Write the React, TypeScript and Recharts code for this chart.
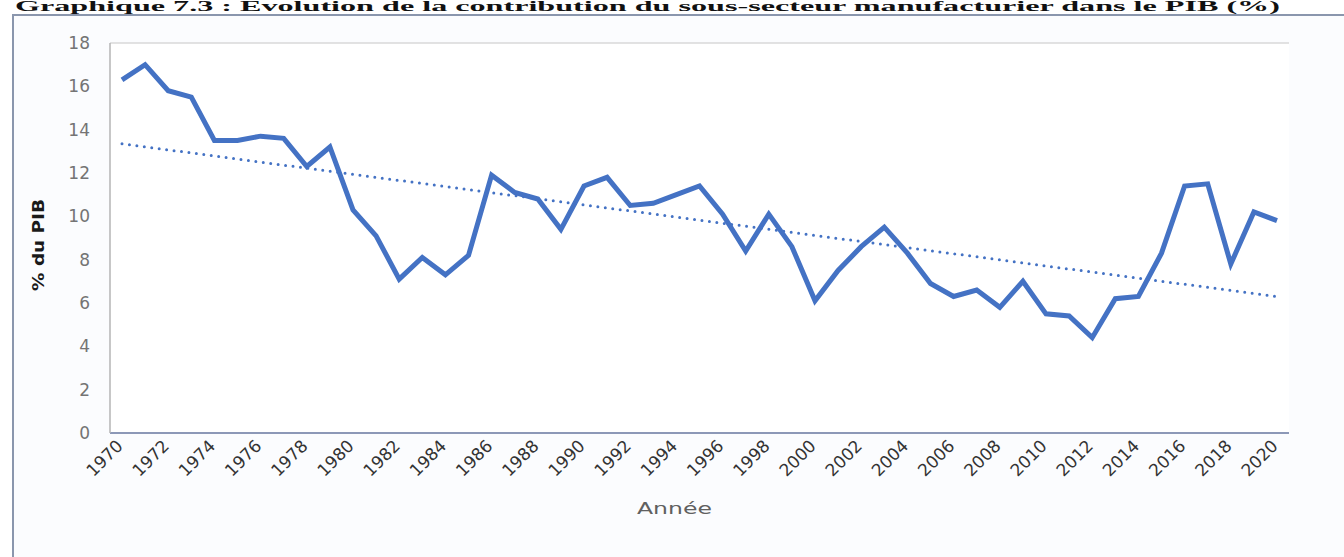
import { LineChart, Line, XAxis, YAxis, CartesianGrid, ReferenceLine } from 'recharts';

const years = [
    '1970', '1971', '1972', '1973', '1974', '1975', '1976', '1977', '1978', '1979',
    '1980', '1981', '1982', '1983', '1984', '1985', '1986', '1987', '1988', '1989',
    '1990', '1991', '1992', '1993', '1994', '1995', '1996', '1997', '1998', '1999',
    '2000', '2001', '2002', '2003', '2004', '2005', '2006', '2007', '2008', '2009',
    '2010', '2011', '2012', '2013', '2014', '2015', '2016', '2017', '2018', '2019',
    '2020',
];

// part du sous-secteur manufacturier (% du PIB)
const manufShare = [
    16.3, 17.0, 15.8, 15.5, 13.5, 13.5, 13.7, 13.6, 12.3, 13.2,
    10.3, 9.1, 7.1, 8.1, 7.3, 8.2, 11.9, 11.1, 10.8, 9.4,
    11.4, 11.8, 10.5, 10.6, 11.0, 11.4, 10.1, 8.4, 10.1, 8.6,
    6.1, 7.5, 8.6, 9.5, 8.3, 6.9, 6.3, 6.6, 5.8, 7.0,
    5.5, 5.4, 4.4, 6.2, 6.3, 8.3, 11.4, 11.5, 7.8, 10.2,
    9.8,
];

// tendance linéaire (extrémités)
const trendEnds = [
    { year: '1970', value: 13.35 },
    { year: '2020', value: 6.3 },
];

const yTicks = [0, 2, 4, 6, 8, 10, 12, 14, 16, 18];

const data = years.map((year, i) => ({ year, value: manufShare[i] }));

const BLUE = '#4472C4';
const FONT = '"DejaVu Sans", "Liberation Sans", sans-serif';

const XTick = (props: any) => {
    const { x, y, payload } = props;
    const tx = x + 2;
    const ty = y + 6;
    return (
        <text
            x={tx}
            y={ty}
            transform={`rotate(-45 ${tx} ${ty})`}
            textAnchor="end"
            fontSize={17}
            fontFamily={FONT}
            fill="#333"
        >
            {payload.value}
        </text>
    );
};

const YTick = (props: any) => {
    const { x, y, payload } = props;
    return (
        <text x={x - 12} y={y + 6} textAnchor="end" fontSize={17} fontFamily={FONT} fill="#747474">
            {payload.value}
        </text>
    );
};

export default function App() {
    return (
        <div style={{ position: 'absolute', left: 0, top: 0, width: 1344, height: 557, overflow: 'hidden', background: '#fff' }}>
            <svg width={1344} height={14} style={{ position: 'absolute', left: 0, top: 0 }}>
                <text
                    x={15}
                    y={11}
                    fontFamily='"Liberation Serif", serif'
                    fontWeight="bold"
                    fontSize={14}
                    fill="#111"
                    textLength={1265}
                    lengthAdjust="spacingAndGlyphs"
                >
                    Graphique 7.3 : Evolution de la contribution du sous-secteur manufacturier dans le PIB (%)
                </text>
            </svg>
            <div
                style={{
                    position: 'absolute',
                    left: 12,
                    top: 14,
                    width: 1400,
                    height: 600,
                    borderTop: '2px solid #8a96ad',
                    borderLeft: '2px solid #8a96ad',
                    background: '#fbfcfe',
                }}
            />
            <div style={{ position: 'absolute', left: 0, top: 0 }}>
                <LineChart width={1344} height={557} data={data} margin={{ top: 43, right: 55, left: 60, bottom: 0 }}>
                    <CartesianGrid vertical={false} stroke="#d9d9d9" strokeWidth={1.5} fill="#ffffff" />
                    <XAxis
                        dataKey="year"
                        interval={1}
                        tickLine={false}
                        height={124}
                        padding={{ left: 12, right: 12 }}
                        axisLine={{ stroke: '#6f7fa8', strokeWidth: 1.5 }}
                        tick={<XTick />}
                    />
                    <YAxis
                        yAxisId="left"
                        domain={[0, 18]}
                        ticks={yTicks}
                        width={50}
                        tickLine={false}
                        axisLine={{ stroke: '#b5b5b5', strokeWidth: 1.5 }}
                        tick={<YTick />}
                    />
                    <YAxis
                        yAxisId="right"
                        orientation="right"
                        domain={[0, 18]}
                        width={0}
                        tick={false}
                        tickLine={false}
                        axisLine={{ stroke: '#a8a8a8', strokeWidth: 1.5 }}
                    />
                    <ReferenceLine
                        yAxisId="left"
                        segment={trendEnds.map((p) => ({ x: p.year, y: p.value }))}
                        stroke={BLUE}
                        strokeWidth={3}
                        strokeDasharray="0 7.5"
                        strokeLinecap="round"
                    />
                    <Line
                        yAxisId="left"
                        type="linear"
                        dataKey="value"
                        stroke={BLUE}
                        strokeWidth={5}
                        dot={false}
                        isAnimationActive={false}
                    />
                </LineChart>
            </div>
            <svg width={1344} height={557} style={{ position: 'absolute', left: 0, top: 0, pointerEvents: 'none' }}>
                <text
                    x={0}
                    y={0}
                    transform="translate(44 245) rotate(-90)"
                    textAnchor="middle"
                    fontFamily={FONT}
                    fontWeight="bold"
                    fontSize={15}
                    fill="#1a1a1a"
                    textLength={92}
                    lengthAdjust="spacingAndGlyphs"
                >
                    % du PIB
                </text>
                <text
                    x={637}
                    y={514}
                    fontFamily={FONT}
                    fontSize={16}
                    fill="#606060"
                    textLength={75}
                    lengthAdjust="spacingAndGlyphs"
                >
                    Année
                </text>
            </svg>
        </div>
    );
}
